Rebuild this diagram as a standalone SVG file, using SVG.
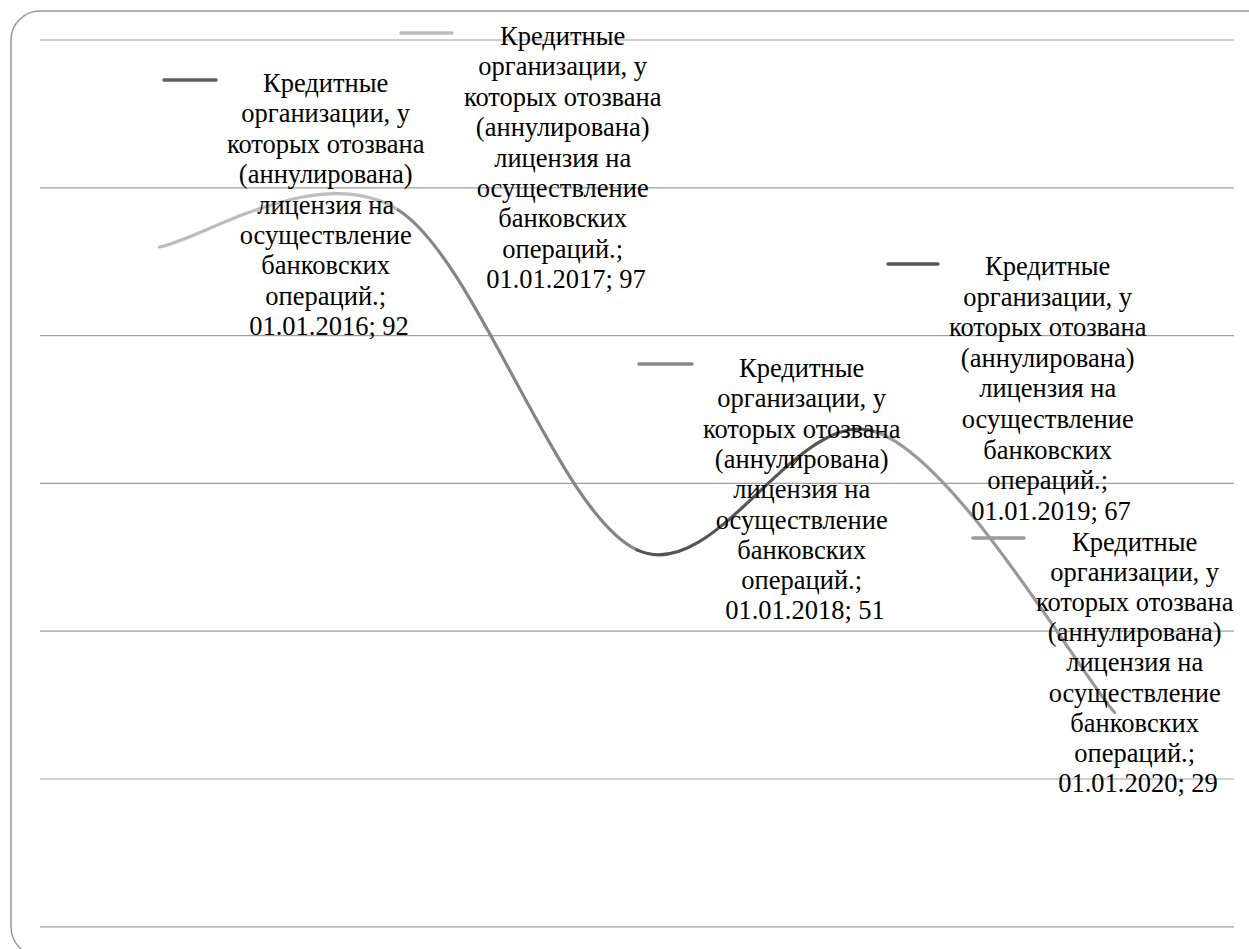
<svg xmlns="http://www.w3.org/2000/svg" width="1249" height="949" viewBox="0 0 1249 949">
  <style>
    .frame { fill: #ffffff; stroke: #9a9a9a; stroke-width: 1.5; }
    .grid { stroke: #a0a0a0; stroke-width: 1.2; fill: none; }
    .seg { fill: none; stroke-width: 3.2; stroke-linecap: round; }
    .key { stroke-width: 3.5; stroke-linecap: round; }
    .lbl { font-family: "Liberation Serif", "Times New Roman", serif; font-size: 26.5px; fill: #000000; text-anchor: middle; }
  </style>

  <!-- chart frame (runs past the right edge) -->
  <rect class="frame" x="11" y="11" width="1320" height="945" rx="29" ry="29"/>

  <!-- horizontal value gridlines (0..120 step 20) -->
  <g id="gridlines">
    <line class="grid" x1="40" y1="40" x2="1234" y2="40"/>
    <line class="grid" x1="40" y1="187.8" x2="1234" y2="187.8"/>
    <line class="grid" x1="40" y1="335.6" x2="1234" y2="335.6"/>
    <line class="grid" x1="40" y1="483.4" x2="1234" y2="483.4"/>
    <line class="grid" x1="40" y1="631.2" x2="1234" y2="631.2"/>
    <line class="grid" x1="40" y1="779" x2="1234" y2="779"/>
    <line class="grid" x1="40" y1="926.8" x2="1234" y2="926.8"/>
  </g>

  <!-- smoothed series line, one colour per segment -->
  <g id="connectors">
    <path class="seg" stroke="#bdbdbd" d="M159.4,247 C199.2,240.8 318.6,159.5 398.2,210"/>
    <path class="seg" stroke="#858585" d="M398.2,210 C477.8,260.5 557.4,512.9 637,549.9"/>
    <path class="seg" stroke="#555555" d="M637,549.9 C716.6,586.9 796.2,404.6 875.8,431.7"/>
    <path class="seg" stroke="#999999" d="M875.8,431.7 C955.4,458.8 1074.8,665.7 1114.6,712.5"/>
  </g>

  <!-- data labels with legend keys -->
  <g id="label-2016">
    <line class="key" x1="164" y1="80" x2="216" y2="80" stroke="#606060"/>
    <text class="lbl" x="329" y="92">
      <tspan x="329" dy="0">Кредитные</tspan>
      <tspan x="329" dy="30.4">организации, у</tspan>
      <tspan x="329" dy="30.4">которых отозвана</tspan>
      <tspan x="329" dy="30.4">(аннулирована)</tspan>
      <tspan x="329" dy="30.4">лицензия на</tspan>
      <tspan x="329" dy="30.4">осуществление</tspan>
      <tspan x="329" dy="30.4">банковских</tspan>
      <tspan x="329" dy="30.4">операций.;</tspan>
      <tspan x="329" dy="30.4">01.01.2016; 92</tspan>
    </text>
  </g>

  <g id="label-2017">
    <line class="key" x1="401" y1="33" x2="452" y2="33" stroke="#bcbcbc"/>
    <text class="lbl" x="566" y="45">
      <tspan x="566" dy="0">Кредитные</tspan>
      <tspan x="566" dy="30.4">организации, у</tspan>
      <tspan x="566" dy="30.4">которых отозвана</tspan>
      <tspan x="566" dy="30.4">(аннулирована)</tspan>
      <tspan x="566" dy="30.4">лицензия на</tspan>
      <tspan x="566" dy="30.4">осуществление</tspan>
      <tspan x="566" dy="30.4">банковских</tspan>
      <tspan x="566" dy="30.4">операций.;</tspan>
      <tspan x="566" dy="30.4">01.01.2017; 97</tspan>
    </text>
  </g>

  <g id="label-2018">
    <line class="key" x1="639" y1="364" x2="692" y2="364" stroke="#888888"/>
    <text class="lbl" x="805" y="377">
      <tspan x="805" dy="0">Кредитные</tspan>
      <tspan x="805" dy="30.3">организации, у</tspan>
      <tspan x="805" dy="30.3">которых отозвана</tspan>
      <tspan x="805" dy="30.3">(аннулирована)</tspan>
      <tspan x="805" dy="30.3">лицензия на</tspan>
      <tspan x="805" dy="30.3">осуществление</tspan>
      <tspan x="805" dy="30.3">банковских</tspan>
      <tspan x="805" dy="30.3">операций.;</tspan>
      <tspan x="805" dy="30.3">01.01.2018; 51</tspan>
    </text>
  </g>

  <g id="label-2019">
    <line class="key" x1="888" y1="264" x2="938" y2="264" stroke="#555555"/>
    <text class="lbl" x="1051" y="275">
      <tspan x="1051" dy="0">Кредитные</tspan>
      <tspan x="1051" dy="30.6">организации, у</tspan>
      <tspan x="1051" dy="30.6">которых отозвана</tspan>
      <tspan x="1051" dy="30.6">(аннулирована)</tspan>
      <tspan x="1051" dy="30.6">лицензия на</tspan>
      <tspan x="1051" dy="30.6">осуществление</tspan>
      <tspan x="1051" dy="30.6">банковских</tspan>
      <tspan x="1051" dy="30.6">операций.;</tspan>
      <tspan x="1051" dy="30.6">01.01.2019; 67</tspan>
    </text>
  </g>

  <g id="label-2020">
    <line class="key" x1="973" y1="538" x2="1024" y2="538" stroke="#999999"/>
    <text class="lbl" x="1138" y="551">
      <tspan x="1138" dy="0">Кредитные</tspan>
      <tspan x="1138" dy="30.1">организации, у</tspan>
      <tspan x="1138" dy="30.1">которых отозвана</tspan>
      <tspan x="1138" dy="30.1">(аннулирована)</tspan>
      <tspan x="1138" dy="30.1">лицензия на</tspan>
      <tspan x="1138" dy="30.1">осуществление</tspan>
      <tspan x="1138" dy="30.1">банковских</tspan>
      <tspan x="1138" dy="30.1">операций.;</tspan>
      <tspan x="1138" dy="30.1">01.01.2020; 29</tspan>
    </text>
  </g>
</svg>
